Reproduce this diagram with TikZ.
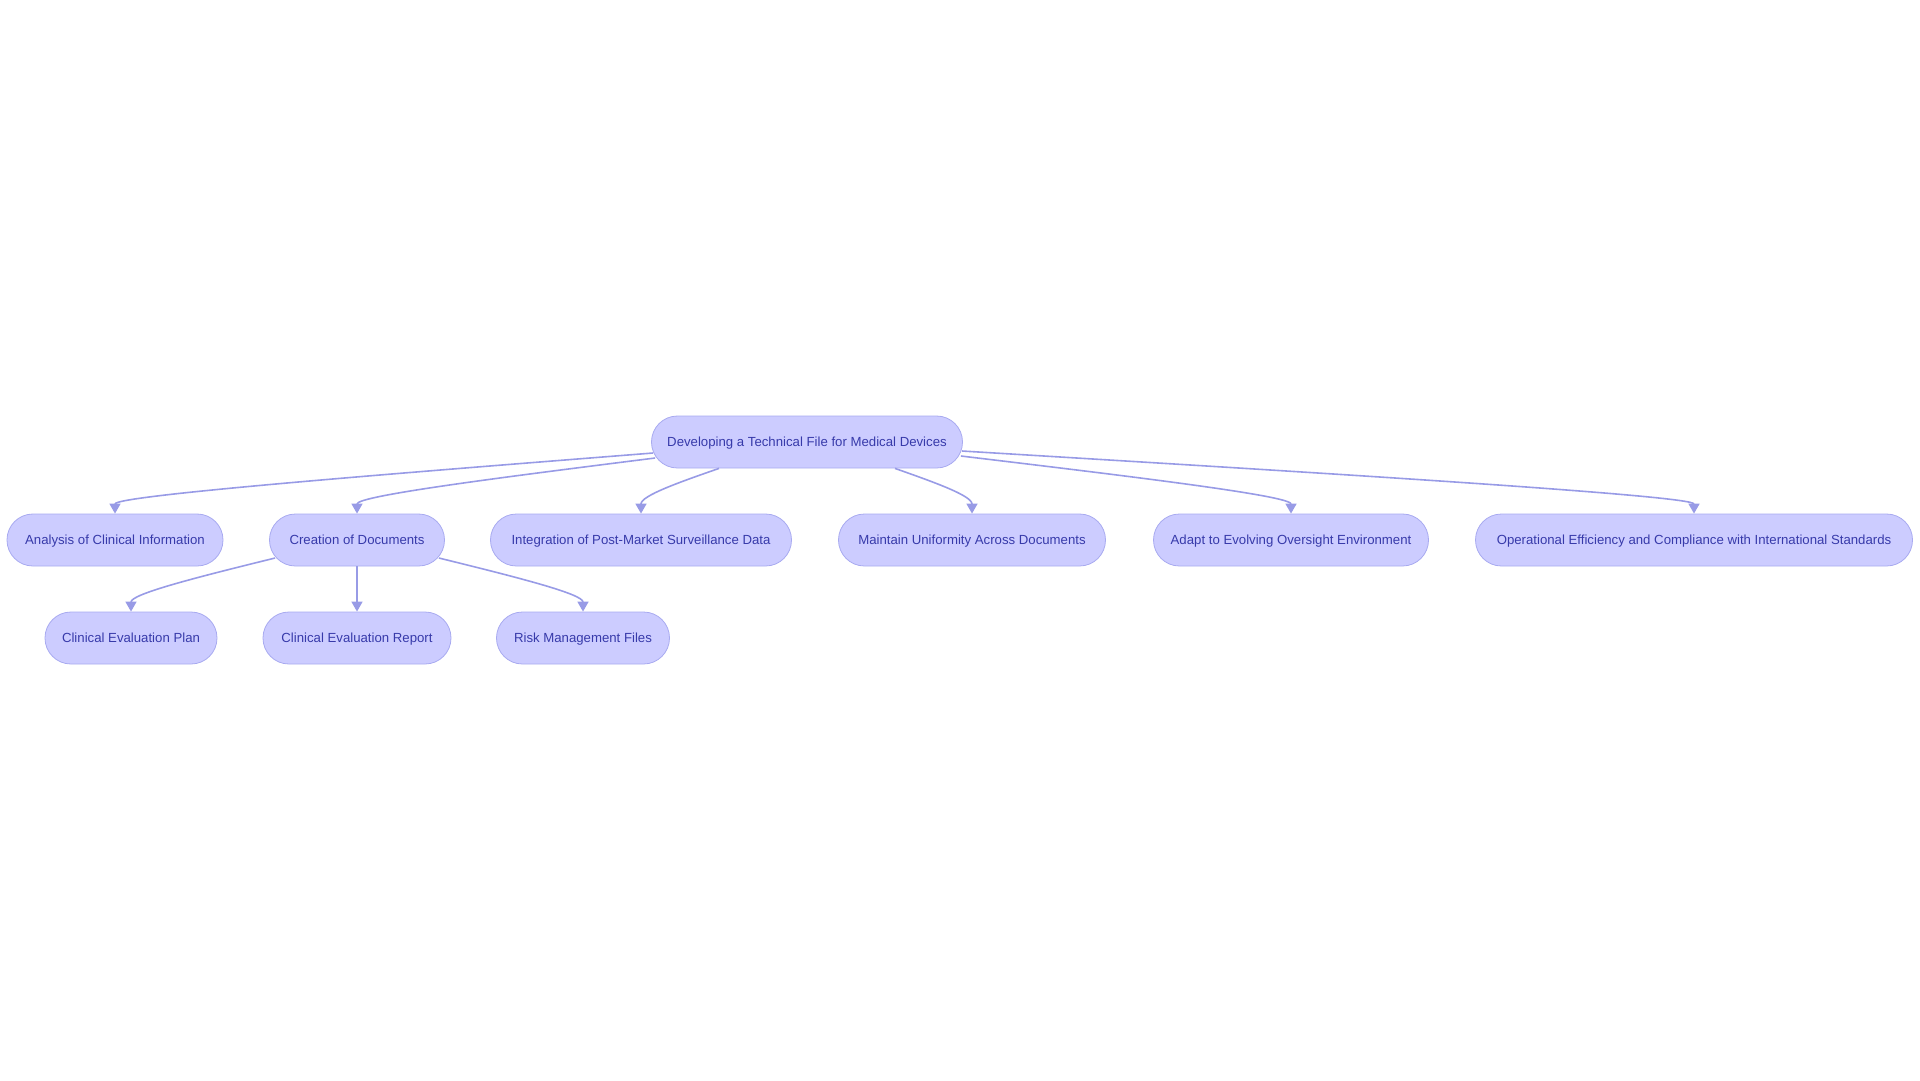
\documentclass[tikz,border=0pt]{standalone}
\usepackage{fontspec}
\setmainfont{Liberation Sans}
\usepackage{tikz}
\usetikzlibrary{arrows.meta, calc}
\definecolor{boxfill}{RGB}{204,204,255}
\definecolor{boxline}{RGB}{168,170,240}
\definecolor{pfeil}{RGB}{152,155,230}
\definecolor{schrift}{RGB}{55,58,170}

\begin{document}
\begin{tikzpicture}[x=1pt, y=-1pt, >={Triangle[length=10pt,width=11pt]},
		box/.style={draw=boxline, fill=boxfill, line width=.8pt, rounded corners=25.9pt, minimum height=52pt, inner sep=0pt, text height=9.3pt, text depth=1.3pt, text=schrift, font=\fontsize{13.2}{15}\selectfont},
		kante/.style={->, draw=pfeil, fill=none, line width=1.6pt,
			to path={.. controls ($(\tikztostart)!.5!(\tikztotarget)+(0,-9)$) and ($(\tikztotarget)+(0,-18)$) .. (\tikztotarget)}}]
		\useasboundingbox (0,0) rectangle (1920,1080);
		
		% Knoten
		\node[box, minimum width=311pt] (root) at (807,442) {Developing a Technical File for Medical Devices};
		\node[box, minimum width=216pt] (ana) at (115,540) {Analysis of Clinical Information};
		\node[box, minimum width=175pt] (cre) at (357,540) {Creation of Documents};
		\node[box, minimum width=301pt] (int) at (641,540) {Integration of Post-Market Surveillance Data};
		\node[box, minimum width=267pt] (mai) at (972,540) {Maintain Uniformity Across Documents};
		\node[box, minimum width=275pt] (ada) at (1291,540) {Adapt to Evolving Oversight Environment};
		\node[box, minimum width=437pt] (ope) at (1694,540) {Operational Efficiency and Compliance with International Standards};
		\node[box, minimum width=172pt] (cep) at (131,638) {Clinical Evaluation Plan};
		\node[box, minimum width=188pt] (cer) at (357,638) {Clinical Evaluation Report};
		\node[box, minimum width=173pt] (ris) at (583,638) {Risk Management Files};
		
		% Kanten
		\draw[kante] ($(root.west)+(2,11)$) to (ana.north);
		\draw[kante] ($(root.west)+(4,16)$) to (cre.north);
		\draw[kante] ($(root.south)+(-88,0)$) to (int.north);
		\draw[kante] ($(root.south)+(88,0)$) to (mai.north);
		\draw[kante] ($(root.east)+(-2,14)$) to (ada.north);
		\draw[kante] ($(root.east)+(-1,9)$) to (ope.north);
		\draw[kante] ($(cre.west)+(6,18)$) to (cep.north);
		\draw[->, draw=pfeil, line width=1.6pt] (cre.south) -- (cer.north);
		\draw[kante] ($(cre.east)+(-6,18)$) to (ris.north);
	\end{tikzpicture}
\end{document}
